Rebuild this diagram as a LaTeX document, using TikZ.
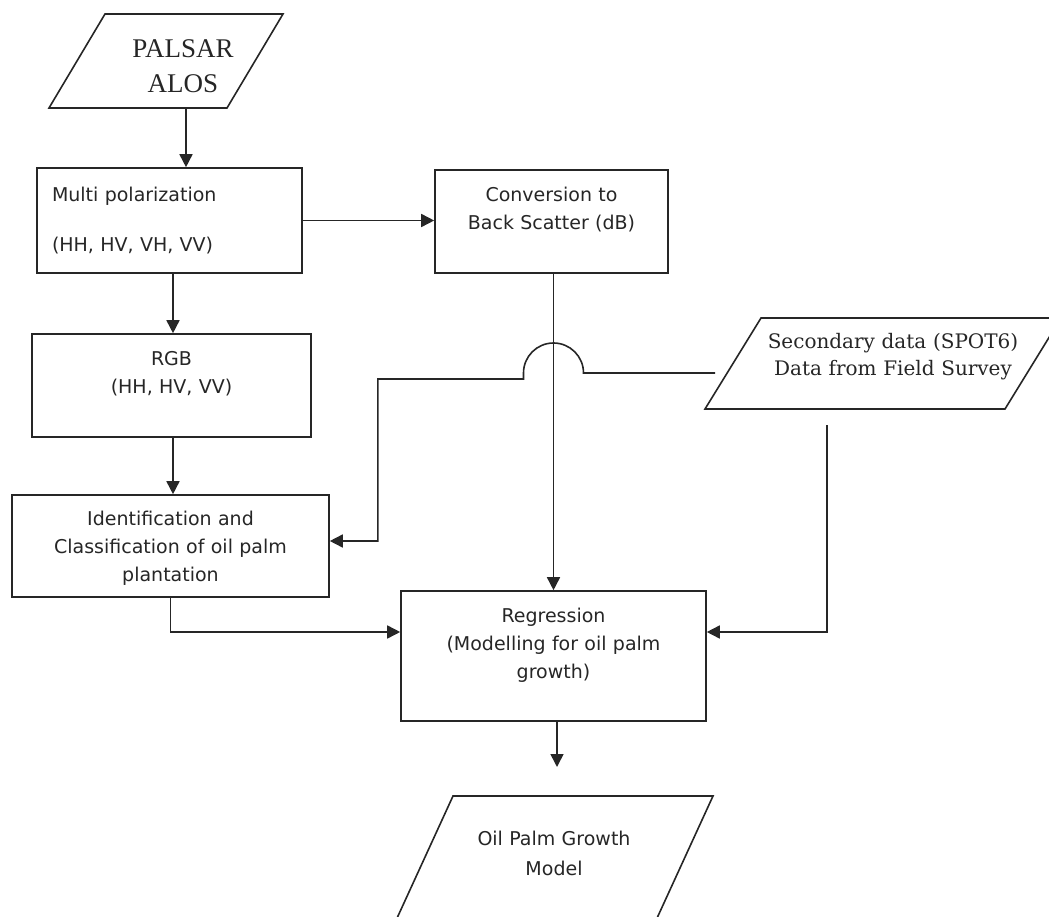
\documentclass[tikz,border=0pt]{standalone}
\usepackage{fontspec}
\usepackage{tikz}
\usetikzlibrary{arrows.meta}
\newfontfamily\flowsans{DejaVu Sans}
\newfontfamily\flowserif{DejaVu Serif}
\newfontfamily\titleserif{Liberation Serif}

\begin{document}
\begin{tikzpicture}[x=1pt,y=-1pt,line width=1.6pt,color=black!85,
            box/.style = {draw,
                        rectangle,
                        inner sep=0pt,
                        align=center,
                        text height=15pt,
                        font=\flowsans\fontsize{19}{28}\selectfont},
            conn/.style = {line width=1.6pt,-{Triangle[length=13pt,width=13pt]}}]
            \useasboundingbox (0,0) rectangle (1049,917);
            \clip (0,0) rectangle (1049,917);
            % Input data
            \draw (105,14) -- (283,14) -- (227,108) -- (49,108) -- cycle;
            \node[anchor=base,text width=150pt,align=center,
                font=\titleserif\fontsize{27}{35}\selectfont] (palsar) at (183,58) {PALSAR\\ALOS};
            \coordinate (palsarS) at (186,108);
            % Processing steps
            \node[box,minimum width=265pt,minimum height=105pt,text width=235pt,
                align=left,text depth=52pt] (multi) at (169.5,220.5) {Multi polarization\\[22pt](HH, HV, VH, VV)};
            \node[box,minimum width=233pt,minimum height=103pt,text width=223pt,
                text depth=54pt] (conv) at (551.5,221.5) {Conversion to\\Back Scatter (dB)};
            \node[box,minimum width=279pt,minimum height=103pt,text width=269pt,
                text depth=56pt] (rgb) at (171.5,385.5) {RGB\\(HH, HV, VV)};
            \node[box,minimum width=317pt,minimum height=102pt,text width=307pt,
                text depth=57pt] (ident) at (170.5,546) {Identification and\\Classification of oil palm\\plantation};
            \node[box,minimum width=305pt,minimum height=130pt,text width=295pt,
                text depth=83pt] (regr) at (553.5,656) {Regression\\(Modelling for oil palm\\growth)};
            % Secondary data
            \draw (761,318) -- (1061,318) -- (1005,409) -- (705,409) -- cycle;
            \node[anchor=base,text width=290pt,align=center,
                font=\flowserif\fontsize{20}{27}\selectfont] (second) at (893,348) {Secondary data (SPOT6)\\Data from Field Survey};
            \coordinate (secW) at (715,373);
            \coordinate (secS) at (827,425);
            % Output
            \draw (453,796) -- (713,796) -- (647,940) -- (387,940) -- cycle;
            \node[anchor=base,text width=250pt,align=center,
                font=\flowsans\fontsize{19}{30}\selectfont] (model) at (554,845) {Oil Palm Growth\\Model};
            \coordinate (modelN) at (557,767);
            % Connectors
            \draw[conn] (palsarS) -- (palsarS |- multi.north);
            \draw[conn] (multi.east) -- (multi.east -| conv.west);
            \draw[conn] ([xshift=3.5pt]multi.south) -- ([xshift=3.5pt]multi.south |- rgb.north);
            \draw[conn] ([xshift=1.5pt]rgb.south) -- ([xshift=1.5pt]rgb.south |- ident.north);
            \draw[conn] (regr.north |- conv.south) -- (regr.north);
            \draw[conn] (secW) -- ([xshift=30pt]regr.north |- secW)
                arc[start angle=0,end angle=180,radius=30pt] -- ++(0,6)
                -| ([xshift=48pt,yshift=5pt]ident.east) -- ([yshift=5pt]ident.east);
            \draw[conn] (secS) |- ([yshift=24pt]regr.east);
            \draw[conn] (ident.south) |- ([yshift=24pt]regr.west);
            \draw[conn] (regr.south -| modelN) -- (modelN);
        \end{tikzpicture}
\end{document}
